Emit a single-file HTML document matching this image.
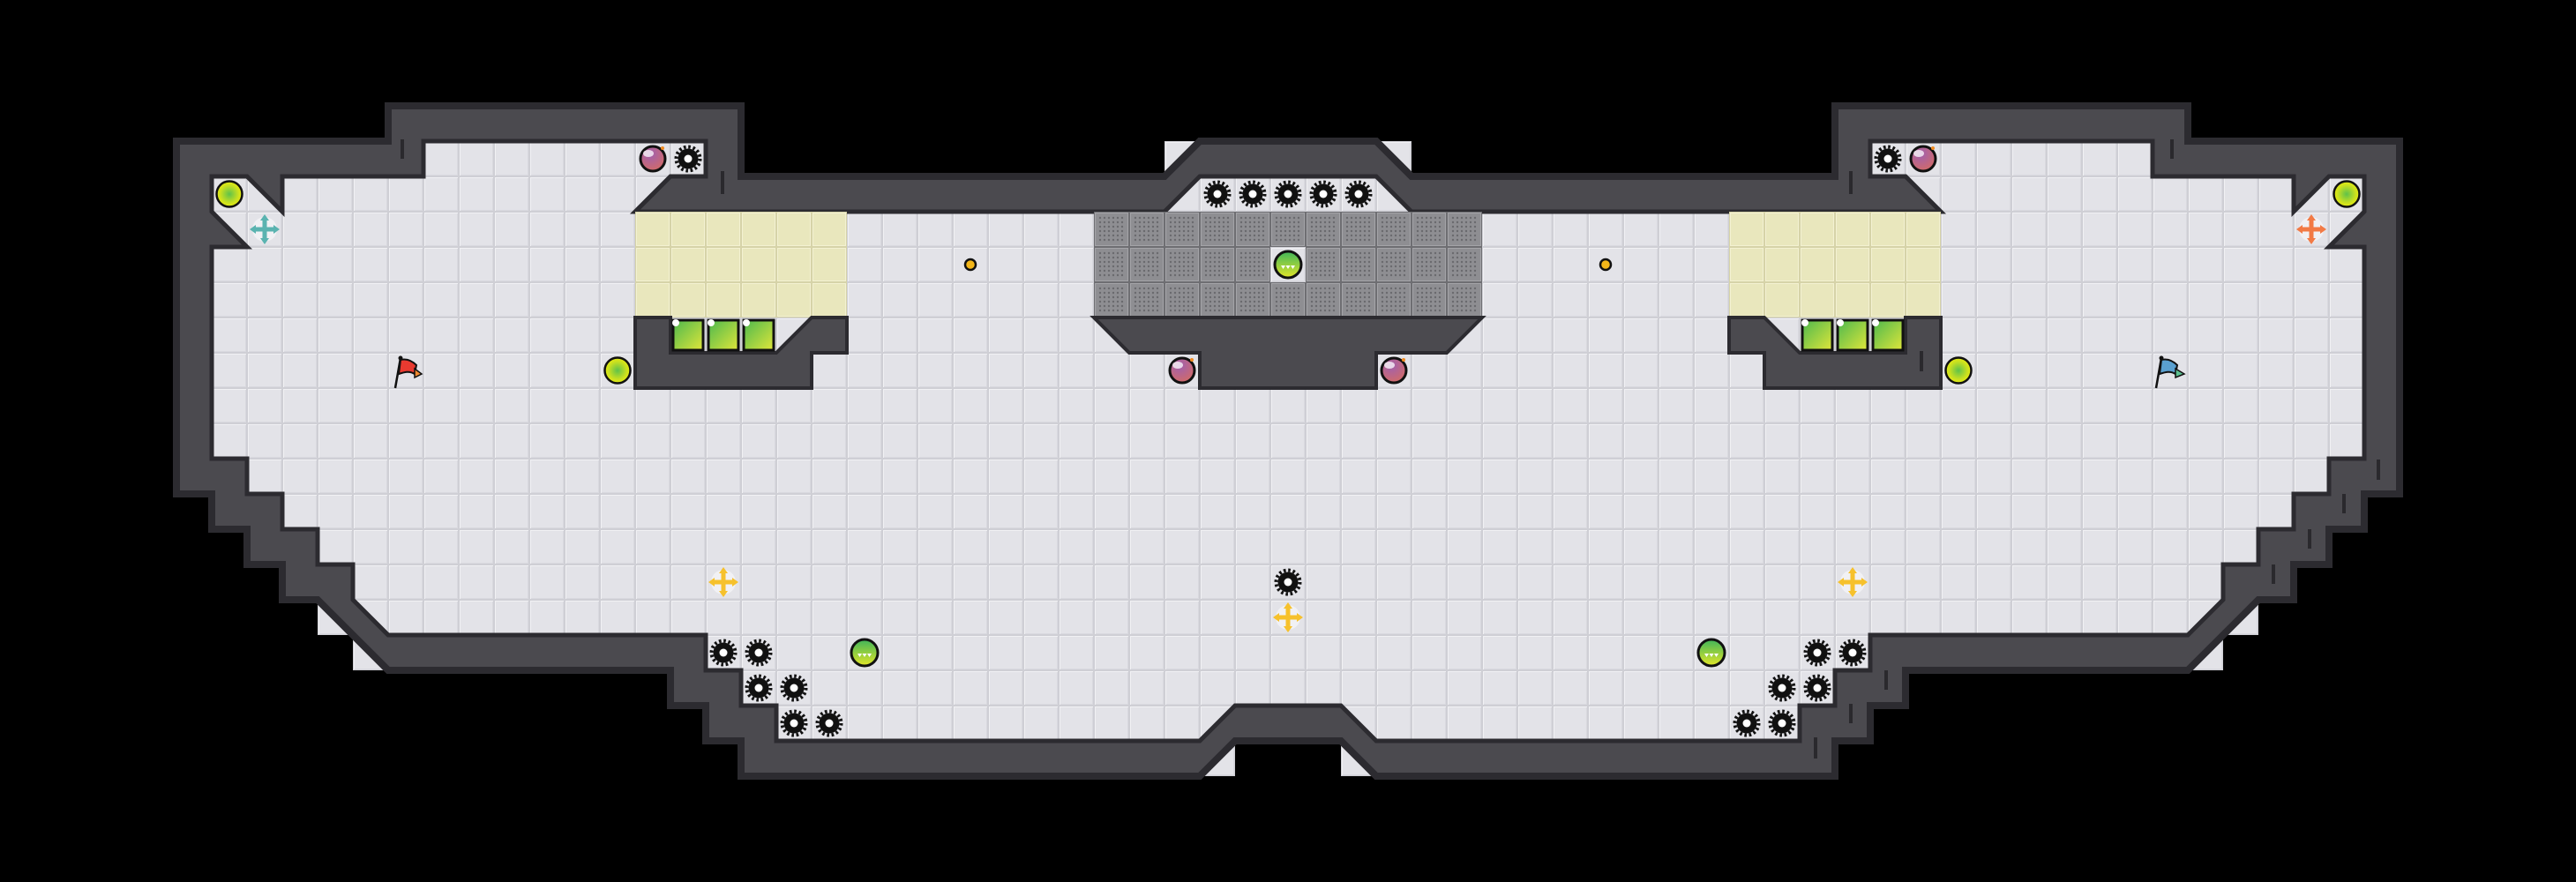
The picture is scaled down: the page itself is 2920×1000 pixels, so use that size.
<!DOCTYPE html>
<html><head><meta charset="utf-8"><style>
html,body{margin:0;padding:0;background:#000;}
svg{display:block;}
</style></head><body>
<svg width="2920" height="1000" viewBox="0 0 2920 1000" xmlns="http://www.w3.org/2000/svg">
<defs>
<pattern id="tile" x="0" y="0" width="40" height="40" patternUnits="userSpaceOnUse">
<rect width="40" height="40" fill="#cfcfd5"/>
<rect x="1" y="1" width="38" height="38" fill="#f1f1f4"/>
<rect x="2" y="2" width="37" height="37" fill="#d9d9df"/>
<rect x="2" y="2" width="36" height="36" fill="#e3e3e8"/>
</pattern>
<pattern id="ytile" x="0" y="0" width="40" height="40" patternUnits="userSpaceOnUse">
<rect width="40" height="40" fill="#d6d3a8"/>
<rect x="1" y="1" width="38" height="38" fill="#f3f1d2"/>
<rect x="2" y="2" width="36" height="36" fill="#e9e7bd"/>
</pattern>
<pattern id="mtile" x="0" y="0" width="40" height="40" patternUnits="userSpaceOnUse">
<rect width="40" height="40" fill="#6e6e72"/>
<rect x="1" y="1" width="38" height="38" fill="#a4a4a8"/>
<rect x="2" y="2" width="36" height="36" fill="#8e8e92"/>
<g fill="#6a6a6e">
<circle cx="7" cy="7" r="1.2"/><circle cx="12" cy="7" r="1.2"/><circle cx="17" cy="7" r="1.2"/><circle cx="22" cy="7" r="1.2"/><circle cx="27" cy="7" r="1.2"/><circle cx="32" cy="7" r="1.2"/>
<circle cx="7" cy="12" r="1.2"/><circle cx="12" cy="12" r="1.2"/><circle cx="17" cy="12" r="1.2"/><circle cx="22" cy="12" r="1.2"/><circle cx="27" cy="12" r="1.2"/><circle cx="32" cy="12" r="1.2"/>
<circle cx="7" cy="17" r="1.2"/><circle cx="12" cy="17" r="1.2"/><circle cx="17" cy="17" r="1.2"/><circle cx="22" cy="17" r="1.2"/><circle cx="27" cy="17" r="1.2"/><circle cx="32" cy="17" r="1.2"/>
<circle cx="7" cy="22" r="1.2"/><circle cx="12" cy="22" r="1.2"/><circle cx="17" cy="22" r="1.2"/><circle cx="22" cy="22" r="1.2"/><circle cx="27" cy="22" r="1.2"/><circle cx="32" cy="22" r="1.2"/>
<circle cx="7" cy="27" r="1.2"/><circle cx="12" cy="27" r="1.2"/><circle cx="17" cy="27" r="1.2"/><circle cx="22" cy="27" r="1.2"/><circle cx="27" cy="27" r="1.2"/><circle cx="32" cy="27" r="1.2"/>
<circle cx="7" cy="32" r="1.2"/><circle cx="12" cy="32" r="1.2"/><circle cx="17" cy="32" r="1.2"/><circle cx="22" cy="32" r="1.2"/><circle cx="27" cy="32" r="1.2"/><circle cx="32" cy="32" r="1.2"/>
</g>
</pattern>
<radialGradient id="gorb" cx="0.5" cy="0.5" r="0.5"><stop offset="0" stop-color="#5fc24a"/><stop offset="0.7" stop-color="#c9e020"/><stop offset="1" stop-color="#e6ec10"/></radialGradient>
<linearGradient id="gball" x1="0" y1="0" x2="0" y2="1"><stop offset="0" stop-color="#3fb55a"/><stop offset="1" stop-color="#e2e628"/></linearGradient>
<linearGradient id="gbox" x1="0" y1="0" x2="1" y2="1"><stop offset="0" stop-color="#4cb84e"/><stop offset="1" stop-color="#e0e63a"/></linearGradient>
<radialGradient id="gbomb" cx="0.4" cy="0.3" r="0.7"><stop offset="0" stop-color="#a060b0"/><stop offset="1" stop-color="#d06a6a"/></radialGradient>
<g id="gear">
<circle r="11.5" fill="#111"/>
<circle r="13.5" fill="none" stroke="#111" stroke-width="4" stroke-dasharray="2.6 2.7"/>
<circle r="4.5" fill="#fff"/>
</g>
<g id="orb"><circle r="14.5" fill="url(#gorb)" stroke="#111" stroke-width="2.5"/></g>
<g id="bomb">
<circle r="14" fill="url(#gbomb)" stroke="#111" stroke-width="3"/>
<ellipse cx="-5" cy="-6" rx="6" ry="4" fill="#fff" opacity="0.75"/>
<circle cx="11" cy="-12" r="2" fill="#f08a20"/>
</g>
<g id="ball">
<circle r="15" fill="url(#gball)" stroke="#111" stroke-width="3"/>
<path d="M-8,1 L-3,1 L-5.5,5Z M-2.5,1 L2.5,1 L0,5Z M3,1 L8,1 L5.5,5Z" fill="#fff"/>
</g>
<g id="cross">
<circle r="14" fill="#f4f4f6" opacity="0.8"/>
<rect x="-2.5" y="-13" width="5" height="26"/>
<rect x="-13" y="-2.5" width="26" height="5"/>
<path d="M0,-17 L-5,-10 L5,-10Z M0,17 L-5,10 L5,10Z M-17,0 L-10,-5 L-10,5Z M17,0 L10,-5 L10,5Z"/>
</g>
<g id="dot"><circle r="6" fill="#f3b619" stroke="#111" stroke-width="2.5"/></g>
</defs>

<rect width="2920" height="1000" fill="#000"/>

<!-- light corner tiles outside wall -->
<g fill="url(#tile)">
<rect x="1320" y="160" width="40" height="40"/><rect x="1560" y="160" width="40" height="40"/>
<rect x="1360" y="840" width="40" height="40"/><rect x="1520" y="840" width="40" height="40"/>
<rect x="360" y="680" width="40" height="40"/><rect x="400" y="720" width="40" height="40"/>
<rect x="2520" y="680" width="40" height="40"/><rect x="2480" y="720" width="40" height="40"/>
</g>

<!-- outer wall -->
<polygon fill="#4b4a4f" stroke="#2c2b30" stroke-width="8" stroke-linejoin="miter" points="1460,160 1360,160 1320,200 840,200 840,120 440,120 440,160 200,160 200,560 240,560 240,600 280,600 280,640 320,640 320,680 360,680 440,760 760,760 760,800 800,800 800,840 840,840 840,880 1360,880 1400,840 1520,840 1560,880 2080,880 2080,840 2120,840 2120,800 2160,800 2160,760 2480,760 2560,680 2600,680 2600,640 2640,640 2640,600 2680,600 2680,560 2720,560 2720,160 2480,160 2480,120 2080,120 2080,200 1600,200 1560,160"/>

<!-- floor -->
<polygon fill="url(#tile)" stroke="#2c2b30" stroke-width="5" stroke-linejoin="miter" points="1460,200 1360,200 1320,240 720,240 760,200 800,200 800,160 480,160 480,200 320,200 320,240 280,200 240,200 240,240 280,280 240,280 240,520 280,520 280,560 320,560 320,600 360,600 360,640 400,640 400,680 440,720 800,720 800,760 840,760 840,800 880,800 880,840 1360,840 1400,800 1520,800 1560,840 2040,840 2040,800 2080,800 2080,760 2120,760 2120,720 2480,720 2520,680 2520,640 2560,640 2560,600 2600,600 2600,560 2640,560 2640,520 2680,520 2680,280 2640,280 2680,240 2680,200 2640,200 2600,240 2600,200 2440,200 2440,160 2120,160 2120,200 2160,200 2200,240 1600,240 1560,200"/>

<!-- yellow areas -->
<rect x="720" y="240" width="240" height="120" fill="url(#ytile)"/>
<rect x="1960" y="240" width="240" height="120" fill="url(#ytile)"/>

<!-- metal grid -->
<rect x="1240" y="240" width="440" height="120" fill="url(#mtile)"/>
<rect x="1440" y="280" width="40" height="40" fill="url(#tile)"/>

<!-- interior walls -->
<g fill="#4b4a4f" stroke="#2c2b30" stroke-width="4" stroke-linejoin="miter">
<polygon points="720,360 760,360 760,400 880,400 920,360 960,360 960,400 920,400 920,440 720,440"/>
<polygon points="2200,360 2160,360 2160,400 2040,400 2000,360 1960,360 1960,400 2000,400 2000,440 2200,440"/>
<polygon points="1240,360 1680,360 1640,400 1560,400 1560,440 1360,440 1360,400 1280,400"/>
</g>

<!-- green boxes -->
<g stroke="#111" stroke-width="3" fill="url(#gbox)">
<rect x="763" y="363" width="34" height="34"/><rect x="803" y="363" width="34" height="34"/><rect x="843" y="363" width="34" height="34"/>
<rect x="2043" y="363" width="34" height="34"/><rect x="2083" y="363" width="34" height="34"/><rect x="2123" y="363" width="34" height="34"/>
</g>
<g fill="#fff">
<circle cx="766" cy="366" r="4"/><circle cx="806" cy="366" r="4"/><circle cx="846" cy="366" r="4"/>
<circle cx="2046" cy="366" r="4"/><circle cx="2086" cy="366" r="4"/><circle cx="2126" cy="366" r="4"/>
</g>

<!-- wall ticks -->
<g stroke="#2a292d" stroke-width="4">
<line x1="456" y1="158" x2="456" y2="180"/><line x1="819" y1="194" x2="819" y2="220"/>
<line x1="2098" y1="194" x2="2098" y2="220"/><line x1="2462" y1="158" x2="2462" y2="180"/>
<line x1="2696" y1="521" x2="2696" y2="544"/><line x1="2657" y1="560" x2="2657" y2="582"/>
<line x1="2618" y1="600" x2="2618" y2="622"/><line x1="2577" y1="640" x2="2577" y2="662"/>
<line x1="2058" y1="836" x2="2058" y2="860"/><line x1="2098" y1="798" x2="2098" y2="820"/>
<line x1="2138" y1="760" x2="2138" y2="782"/><line x1="2178" y1="398" x2="2178" y2="421"/>
</g>

<!-- gears -->
<use href="#gear" x="780" y="180"/><use href="#gear" x="2140" y="180"/>
<use href="#gear" x="1380" y="220"/><use href="#gear" x="1420" y="220"/><use href="#gear" x="1460" y="220"/><use href="#gear" x="1500" y="220"/><use href="#gear" x="1540" y="220"/>
<use href="#gear" x="1460" y="660"/>
<use href="#gear" x="820" y="740"/><use href="#gear" x="860" y="740"/><use href="#gear" x="860" y="780"/><use href="#gear" x="900" y="780"/><use href="#gear" x="900" y="820"/><use href="#gear" x="940" y="820"/>
<use href="#gear" x="2100" y="740"/><use href="#gear" x="2060" y="740"/><use href="#gear" x="2060" y="780"/><use href="#gear" x="2020" y="780"/><use href="#gear" x="2020" y="820"/><use href="#gear" x="1980" y="820"/>

<!-- orbs -->
<use href="#orb" x="260" y="220"/><use href="#orb" x="2660" y="220"/>
<use href="#orb" x="700" y="420"/><use href="#orb" x="2220" y="420"/>

<!-- bombs -->
<use href="#bomb" x="740" y="180"/><use href="#bomb" x="2180" y="180"/>
<use href="#bomb" x="1340" y="420"/><use href="#bomb" x="1580" y="420"/>

<!-- balls -->
<use href="#ball" x="1460" y="300"/><use href="#ball" x="980" y="740"/><use href="#ball" x="1940" y="740"/>

<!-- dots -->
<use href="#dot" x="1100" y="300"/><use href="#dot" x="1820" y="300"/>

<!-- crosses -->
<use href="#cross" x="300" y="260" fill="#5ab3b0"/>
<use href="#cross" x="2620" y="260" fill="#f27a45"/>
<use href="#cross" x="820" y="660" fill="#f6c12c"/>
<use href="#cross" x="2100" y="660" fill="#f6c12c"/>
<use href="#cross" x="1460" y="700" fill="#f6c12c"/>

<!-- flags -->
<g transform="translate(440,400)">
<line x1="8" y1="40" x2="14" y2="6" stroke="#111" stroke-width="2.5"/>
<circle cx="14" cy="6" r="2.5" fill="#111"/>
<path d="M14,8 C22,6 28,10 32,14 L30,24 C24,20 18,22 12,24 Z" fill="#e83a30" stroke="#111" stroke-width="2"/>
<path d="M30,18 L38,24 L30,28 Z" fill="#f08a30" stroke="#111" stroke-width="1.5"/>
</g>
<g transform="translate(2440,400)">
<line x1="4" y1="40" x2="10" y2="6" stroke="#111" stroke-width="2.5"/>
<circle cx="10" cy="6" r="2.5" fill="#111"/>
<path d="M10,8 C18,6 24,10 28,14 L26,24 C20,20 14,22 8,24 Z" fill="#5aa0d0" stroke="#111" stroke-width="2"/>
<path d="M26,18 L36,24 L26,28 Z" fill="#5cc090" stroke="#111" stroke-width="1.5"/>
</g>
</svg>
</body></html>
